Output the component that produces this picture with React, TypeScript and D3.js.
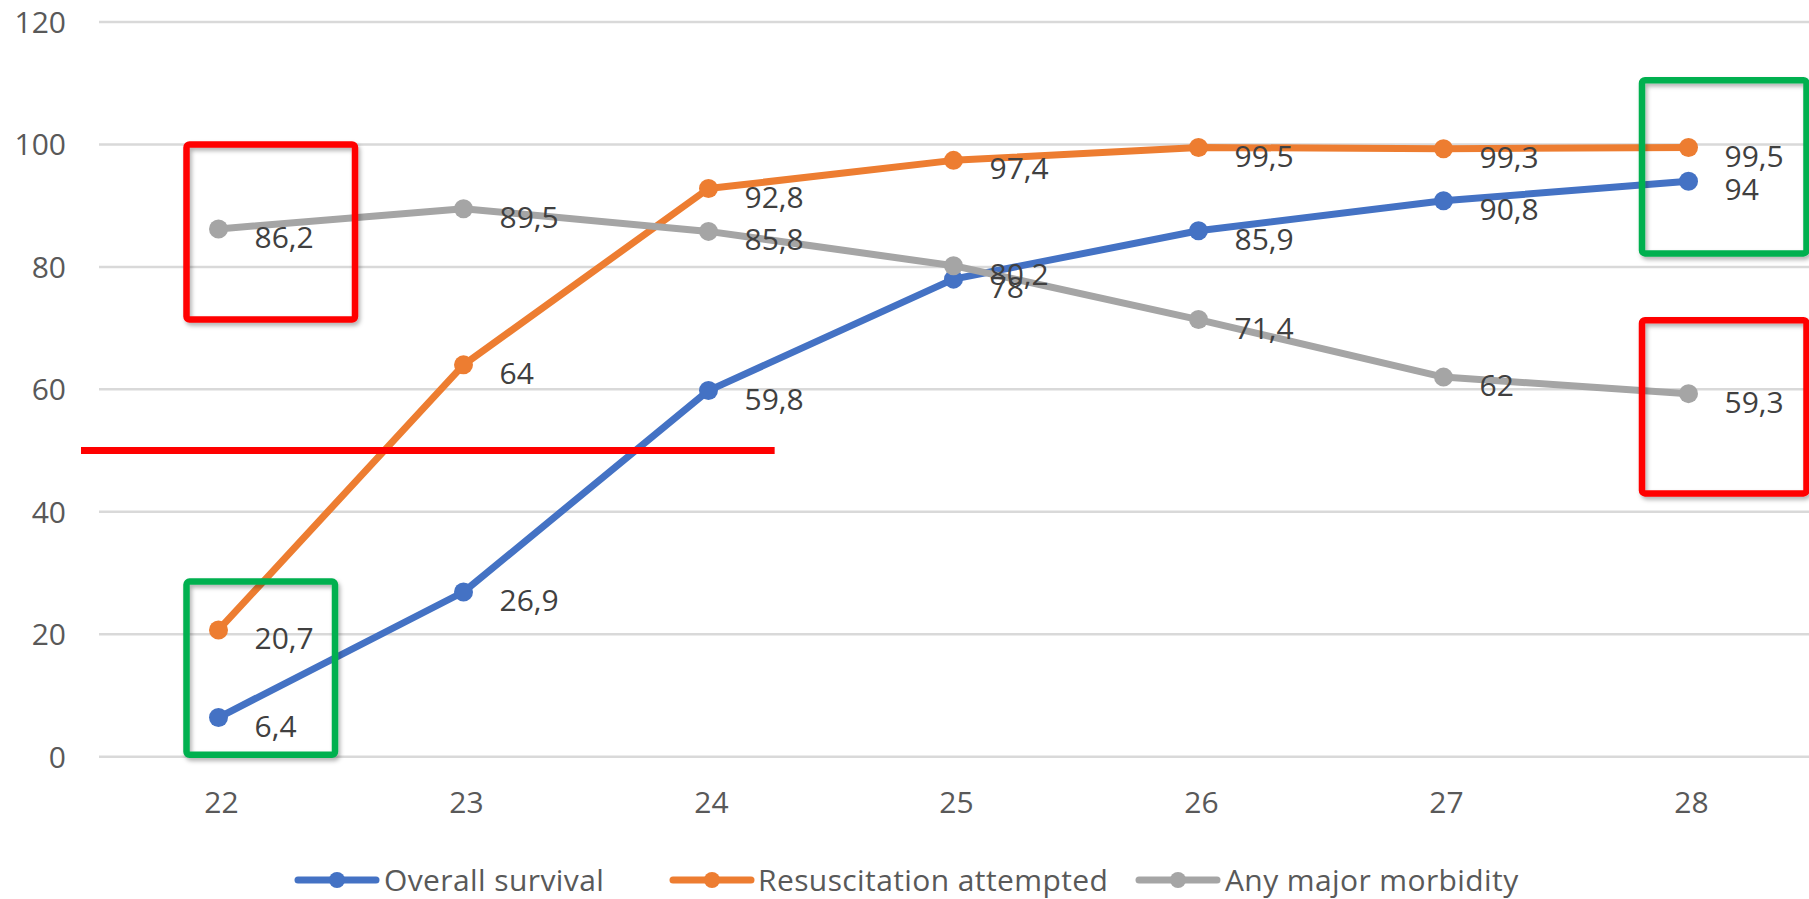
import React from "react";
import * as d3 from "d3";

// Gestational age (weeks) on the x axis
const weeks = ["22", "23", "24", "25", "26", "27", "28"];

// Percentages per week
const overallSurvival = [6.4, 26.9, 59.8, 78, 85.9, 90.8, 94];
const resuscitationAttempted = [20.7, 64, 92.8, 97.4, 99.5, 99.3, 99.5];
const anyMajorMorbidity = [86.2, 89.5, 85.8, 80.2, 71.4, 62, 59.3];

const yTicks = [0, 20, 40, 60, 80, 100, 120];

const seriesNames = ["Overall survival", "Resuscitation attempted", "Any major morbidity"];
const seriesColors = ["#4472C4", "#ED7D31", "#A5A5A5"];
const seriesValues = [overallSurvival, resuscitationAttempted, anyMajorMorbidity];

// Highlight boxes: week they surround, value span
const highlightWeeks = ["22", "22", "28", "28"];
const highlightTop = [100, 28.6, 110.5, 71.3];
const highlightBottom = [71.4, 0.3, 82.2, 43];
const highlightColors = ["#FF0000", "#00B050", "#00B050", "#FF0000"];

// 50 % threshold line
const thresholdValue = 50;

const W = 1809;
const H = 899;
const FONT = "'Open Sans', 'DejaVu Sans', sans-serif";

export default function App() {
  const x = d3.scalePoint<string>().domain(weeks).range([96, 1811]).padding(0.5);
  const y = d3.scaleLinear().domain([0, 120]).range([756.7, 22]);
  const step = x.step();

  const line = d3
    .line<number>()
    .x((_, i) => x(weeks[i]) as number)
    .y((d) => y(d));

  const legendItems = [
    { lineX: 298, textX: 384 },
    { lineX: 673, textX: 758 },
    { lineX: 1139, textX: 1225 },
  ];

  return (
    <svg
      width={W}
      height={H}
      style={{ position: "absolute", left: 0, top: 0, background: "#fff" }}
      fontFamily={FONT}
    >
      <defs>
        <filter id="boxShadow" x="-10%" y="-10%" width="130%" height="130%">
          <feDropShadow dx="2" dy="3" stdDeviation="2" floodColor="#000" floodOpacity="0.3" />
        </filter>
      </defs>
      <rect width={W} height={H} fill="#fff" />

      {/* gridlines and y tick labels */}
      {yTicks.map((t) => (
        <g key={t}>
          <line x1={99} x2={W} y1={y(t)} y2={y(t)} stroke="#D9D9D9" strokeWidth={2.5} />
          <text
            x={66}
            y={y(t)}
            dy="0.36em"
            textAnchor="end"
            fontSize={30}
            fill="#595959"
          >
            {t}
          </text>
        </g>
      ))}

      {/* x tick labels */}
      {weeks.map((w) => (
        <text key={w} x={(x(w) as number) + 3} y={813} textAnchor="middle" fontSize={30} fill="#595959">
          {w}
        </text>
      ))}

      {/* series lines */}
      {seriesValues.map((vals, s) => (
        <path
          key={"l" + s}
          d={line(vals) as string}
          fill="none"
          stroke={seriesColors[s]}
          strokeWidth={7}
          strokeLinejoin="round"
          strokeLinecap="round"
        />
      ))}

      {/* markers */}
      {seriesValues.map((vals, s) =>
        vals.map((v, i) => (
          <circle key={"m" + s + i} cx={x(weeks[i]) as number} cy={y(v)} r={9.5} fill={seriesColors[s]} />
        ))
      )}

      {/* data labels */}
      {seriesValues.map((vals, s) =>
        vals.map((v, i) => (
          <text
            key={"t" + s + i}
            x={(x(weeks[i]) as number) + 36}
            y={y(v) + 19}
            fontSize={30}
            fill="#404040"
          >
            {String(v).replace(".", ",")}
          </text>
        ))
      )}

      {/* highlight boxes */}
      {highlightWeeks.map((w, i) => {
        const cx = x(w) as number;
        const left = w === "22" ? cx - 32 : cx - 46.5;
        const right = w === "22" ? cx + (i === 0 ? 136.5 : 116.5) : cx + 118;
        const top = y(highlightTop[i]);
        const bottom = y(highlightBottom[i]);
        return (
          <rect
            key={"b" + i}
            x={left}
            y={top}
            width={right - left}
            height={bottom - top}
            rx={3}
            fill="none"
            stroke={highlightColors[i]}
            strokeWidth={6.5}
            filter="url(#boxShadow)"
          />
        );
      })}

      {/* threshold line */}
      <line
        x1={81}
        x2={(x("24") as number) + step * 0.27}
        y1={y(thresholdValue)}
        y2={y(thresholdValue)}
        stroke="#FF0000"
        strokeWidth={7}
      />

      {/* legend */}
      {legendItems.map((it, s) => (
        <g key={"lg" + s}>
          <line
            x1={it.lineX}
            x2={it.lineX + 78}
            y1={880}
            y2={880}
            stroke={seriesColors[s]}
            strokeWidth={7}
            strokeLinecap="round"
          />
          <circle cx={it.lineX + 39} cy={880} r={8} fill={seriesColors[s]} />
          <text x={it.textX} y={891} fontSize={30} letterSpacing={0.4} fill="#595959">
            {seriesNames[s]}
          </text>
        </g>
      ))}
    </svg>
  );
}
